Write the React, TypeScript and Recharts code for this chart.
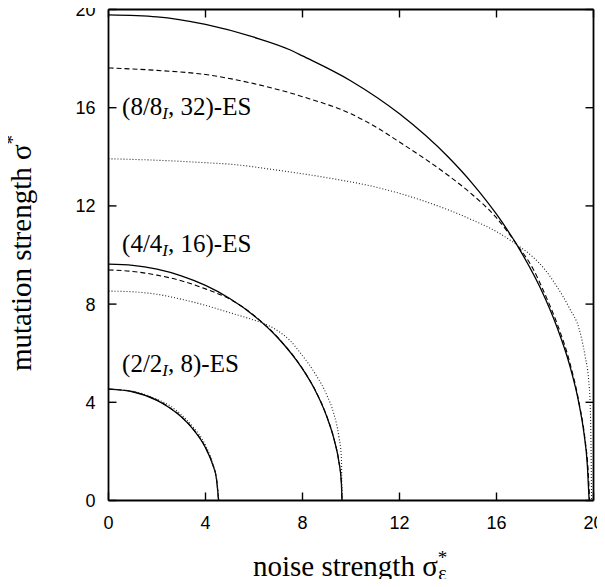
import React from 'react';
import { LineChart, Line, XAxis, YAxis, ReferenceDot } from 'recharts';

// ---- tick labels ----
const xTicks = [0, 4, 8, 12, 16, 20];
const yTicks = [0, 4, 8, 12, 16, 20];

// ---- (2/2_I, 8)-ES ----
const es2SolidX = [0, 1, 2, 2.5, 3, 3.5, 4, 4.3, 4.45, 4.54];
const es2SolidY = [4.54, 4.43, 4.08, 3.79, 3.41, 2.89, 2.15, 1.45, 0.9, 0];
const es2DashedX = [0, 1, 2, 2.5, 3, 3.5, 4, 4.3, 4.45, 4.54];
const es2DashedY = [4.54, 4.43, 4.09, 3.8, 3.42, 2.9, 2.16, 1.46, 0.9, 0];
const es2DottedX = [0, 1, 2, 2.5, 3, 3.5, 4, 4.3, 4.45, 4.55];
const es2DottedY = [4.54, 4.45, 4.12, 3.88, 3.5, 2.98, 2.25, 1.5, 0.9, 0];

// ---- (4/4_I, 16)-ES ----
const es4SolidX = [0, 1, 2, 3, 4, 5, 6, 7, 8, 8.5, 9, 9.3, 9.5, 9.6, 9.63];
const es4SolidY = [9.63, 9.58, 9.42, 9.15, 8.76, 8.23, 7.53, 6.61, 5.36, 4.53, 3.42, 2.5, 1.58, 0.76, 0];
const es4DashedX = [0, 1, 2, 3, 4, 5, 5.57, 6, 7, 8, 8.5, 9, 9.3, 9.5, 9.6, 9.63];
const es4DashedY = [9.39, 9.33, 9.18, 8.95, 8.62, 8.2, 7.86, 7.54, 6.62, 5.37, 4.54, 3.43, 2.5, 1.59, 0.78, 0];
const es4DottedX = [0, 1, 2, 3, 4, 5, 6, 6.41, 7, 7.5, 7.92, 8.5, 9, 9.29, 9.5, 9.6, 9.63];
const es4DottedY = [8.53, 8.5, 8.4, 8.2, 7.95, 7.65, 7.35, 7.21, 6.9, 6.5, 6.0, 5.2, 4.3, 3.54, 2.6, 1.8, 0];

// ---- (8/8_I, 32)-ES ----
const es8SolidX = [0, 2, 4, 6, 7.5, 8, 10, 12, 14, 15, 16, 17, 18, 18.5, 19, 19.4, 19.6, 19.75, 19.82];
const es8SolidY = [19.78, 19.7, 19.39, 18.87, 18.35, 18.11, 17.09, 15.75, 14.0, 12.92, 11.66, 10.15, 8.25, 7.05, 5.57, 3.95, 2.79, 1.38, 0];
const es8DashedX = [0, 2, 4, 6, 7.5, 8, 10, 11.22, 12, 13, 14, 14.93, 15.96, 16.85, 17.5, 18, 18.5, 19, 19.4, 19.65, 19.78, 19.84];
const es8DashedY = [17.62, 17.52, 17.35, 16.98, 16.6, 16.45, 15.75, 15.1, 14.6, 13.95, 13.25, 12.52, 11.56, 10.41, 9.45, 8.4, 7.2, 5.7, 4.0, 2.5, 1.2, 0];
const es8DottedX = [0, 2, 4, 5, 7, 9, 11.22, 13, 14.93, 16, 16.85, 17.5, 18, 18.5, 19, 19.42, 19.65, 19.8, 19.86, 19.9, 19.92];
const es8DottedY = [13.92, 13.86, 13.76, 13.7, 13.45, 13.15, 12.72, 12.2, 11.46, 10.95, 10.41, 9.92, 9.4, 8.7, 7.85, 6.94, 5.9, 4.9, 4.0, 2.0, 0];

// ---- curve labels ----
const muValues = [2, 4, 8];
const lambdaValues = [8, 16, 32];
const labelAnchorX = [0.56, 0.56, 0.56];
const labelAnchorY = [5.22, 10.12, 15.7];

const zip = (xs: number[], ys: number[]) => xs.map((x, i) => ({ x, y: ys[i] }));

const SERIF = "'Liberation Serif', 'Times New Roman', serif";
const SANS = "'Liberation Sans', Arial, sans-serif";
const FRAME = { stroke: '#000', strokeWidth: 1.8 };
const TICK_W = 1.4;

const BottomTick = (props: any) => {
  const { x, y, payload } = props;
  return (
    <g>
      <line x1={x} y1={y} x2={x} y2={y - 8} stroke="#000" strokeWidth={TICK_W} />
      <text x={x} y={y + 28} textAnchor="middle" fontFamily={SANS} fontSize={18} fill="#000">
        {payload.value}
      </text>
    </g>
  );
};

const TopTick = (props: any) => {
  const { x, y } = props;
  return <line x1={x} y1={y} x2={x} y2={y + 8} stroke="#000" strokeWidth={TICK_W} />;
};

const LeftTick = (props: any) => {
  const { x, y, payload } = props;
  return (
    <g>
      <line x1={x} y1={y} x2={x + 8} y2={y} stroke="#000" strokeWidth={TICK_W} />
      <text x={x - 13} y={y + 6.5} textAnchor="end" fontFamily={SANS} fontSize={18} fill="#000">
        {payload.value}
      </text>
    </g>
  );
};

const RightTick = (props: any) => {
  const { x, y } = props;
  return <line x1={x} y1={y} x2={x - 8} y2={y} stroke="#000" strokeWidth={TICK_W} />;
};

const XTitle = (props: any) => {
  const { viewBox } = props;
  const cx = viewBox.x + viewBox.width / 2;
  return (
    <text x={cx - 98} y={viewBox.y + 75} fontFamily={SERIF} fontSize={29} fill="#000">
      noise strength σ
      <tspan fontSize={19} dy={-12}>*</tspan>
      <tspan fontSize={20} dx={-9} dy={16}>ε</tspan>
    </text>
  );
};

const YTitle = (props: any) => {
  const { viewBox } = props;
  const cy = viewBox.y + viewBox.height / 2;
  const x = 23;
  const y = cy - 2;
  return (
    <text x={x} y={y} transform={`rotate(-90, ${x}, ${y})`} textAnchor="middle" fontFamily={SERIF} fontSize={29} fill="#000">
      mutation strength σ<tspan fontSize={19} dy={-12}>*</tspan>
    </text>
  );
};

const EsLabel = (props: any) => {
  const { viewBox, mu, lambda } = props;
  const x = viewBox.x + viewBox.width / 2;
  const y = viewBox.y + viewBox.height / 2;
  return (
    <text x={x} y={y} fontFamily={SERIF} fontSize={25} fill="#000">
      {`(${mu}/${mu}`}
      <tspan fontStyle="italic" fontSize={17} dy={4}>I</tspan>
      <tspan dy={-4}>{`, ${lambda})-ES`}</tspan>
    </text>
  );
};

const series = [
  { data: zip(es2SolidX, es2SolidY), dash: undefined, color: '#000', w: 1.3 },
  { data: zip(es2DashedX, es2DashedY), dash: '5 3', color: '#000', w: 1.1 },
  { data: zip(es2DottedX, es2DottedY), dash: '1 2', color: '#222', w: 1.1 },
  { data: zip(es4SolidX, es4SolidY), dash: undefined, color: '#000', w: 1.3 },
  { data: zip(es4DashedX, es4DashedY), dash: '5 3', color: '#000', w: 1.1 },
  { data: zip(es4DottedX, es4DottedY), dash: '1 2', color: '#222', w: 1.1 },
  { data: zip(es8SolidX, es8SolidY), dash: undefined, color: '#000', w: 1.3 },
  { data: zip(es8DashedX, es8DashedY), dash: '5 3', color: '#000', w: 1.1 },
  { data: zip(es8DottedX, es8DottedY), dash: '1 2', color: '#222', w: 1.1 },
];

const css =
  'html,body{overflow:hidden}' +
  'svg.recharts-surface{overflow:visible;display:block}';

export default function App() {
  return (
    <div style={{ width: 589, height: 571 }}>
      <style>{css}</style>
      <LineChart width={589} height={571} margin={{ top: 0.5, right: 2.5, left: 0.5, bottom: 48.5 }}>
        <XAxis
          type="number"
          dataKey="x"
          domain={[0, 20]}
          ticks={xTicks}
          interval={0}
          allowDataOverflow
          height={30}
          tickSize={0}
          tickMargin={0}
          tickLine={false}
          axisLine={FRAME}
          tick={<BottomTick />}
          label={<XTitle />}
        />
        <XAxis
          xAxisId="top"
          orientation="top"
          type="number"
          dataKey="x"
          domain={[0, 20]}
          ticks={xTicks}
          interval={0}
          allowDataOverflow
          height={1}
          tickSize={0}
          tickMargin={0}
          tickLine={false}
          axisLine={FRAME}
          tick={<TopTick />}
        />
        <YAxis
          type="number"
          dataKey="y"
          domain={[0, 20]}
          ticks={yTicks}
          interval={0}
          allowDataOverflow
          width={100}
          tickSize={0}
          tickMargin={0}
          tickLine={false}
          axisLine={FRAME}
          tick={<LeftTick />}
          label={<YTitle />}
        />
        <YAxis
          yAxisId="right"
          orientation="right"
          type="number"
          dataKey="y"
          domain={[0, 20]}
          ticks={yTicks}
          interval={0}
          allowDataOverflow
          width={1}
          tickSize={0}
          tickMargin={0}
          tickLine={false}
          axisLine={FRAME}
          tick={<RightTick />}
        />
        {series.map((s, i) => (
          <Line
            key={i}
            data={s.data}
            dataKey="y"
            type="monotone"
            stroke={s.color}
            strokeWidth={s.w}
            strokeDasharray={s.dash}
            dot={false}
            activeDot={false}
            isAnimationActive={false}
          />
        ))}
        {muValues.map((mu, i) => (
          <ReferenceDot
            key={`l${i}`}
            x={labelAnchorX[i]}
            y={labelAnchorY[i]}
            r={0}
            fill="none"
            stroke="none"
            ifOverflow="visible"
            label={<EsLabel mu={mu} lambda={lambdaValues[i]} />}
          />
        ))}
      </LineChart>
    </div>
  );
}
